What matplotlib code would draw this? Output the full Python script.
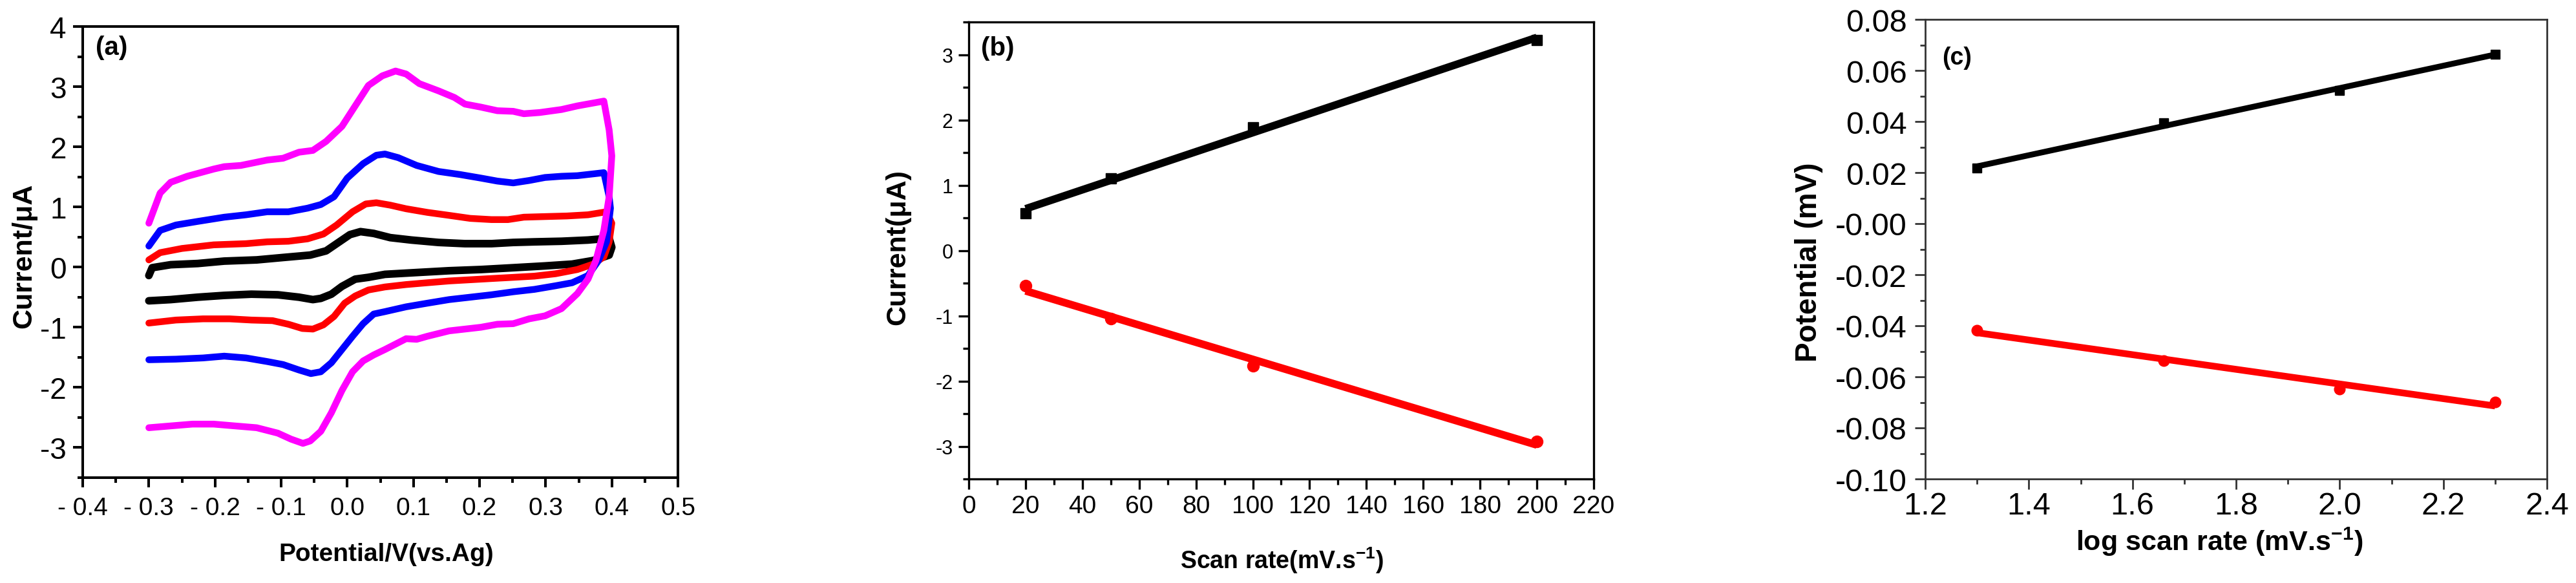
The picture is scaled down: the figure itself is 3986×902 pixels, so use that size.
import numpy as np
import matplotlib
matplotlib.use("Agg")
import matplotlib.pyplot as plt
from matplotlib.ticker import MultipleLocator, FormatStrFormatter

plt.rcParams['font.family'] = ['Liberation Sans', 'DejaVu Sans']
plt.rcParams['axes.unicode_minus'] = False
plt.rcParams['mathtext.fontset'] = 'custom'
plt.rcParams['mathtext.rm'] = 'Liberation Sans'
plt.rcParams['mathtext.bf'] = 'Liberation Sans:bold'

# ---- (a) cyclic voltammograms, potential (V) / current (uA) ----
e_magenta = [-0.300, -0.283, -0.267, -0.242, -0.202, -0.186, -0.161, -0.121, -0.097, -0.073,
             -0.052, -0.032, -0.008, 0.012, 0.032, 0.053, 0.073, 0.089, 0.109, 0.138,
             0.162, 0.178, 0.202, 0.227, 0.251, 0.267, 0.291, 0.324, 0.348, 0.388,
             0.396, 0.400, 0.396, 0.388, 0.376, 0.364, 0.348, 0.324, 0.299, 0.275,
             0.251, 0.227, 0.202, 0.178, 0.154, 0.121, 0.105, 0.089, 0.073, 0.057,
             0.040, 0.024, 0.008, -0.008, -0.024, -0.040, -0.056, -0.067, -0.085, -0.105,
             -0.137, -0.170, -0.202, -0.234, -0.267, -0.300]
i_magenta = [0.73, 1.23, 1.41, 1.51, 1.63, 1.67, 1.69, 1.78, 1.81, 1.91,
             1.94, 2.09, 2.34, 2.68, 3.02, 3.18, 3.26, 3.21, 3.05, 2.93,
             2.82, 2.71, 2.66, 2.60, 2.59, 2.55, 2.57, 2.62, 2.68, 2.76,
             2.28, 1.85, 1.17, 0.61, 0.11, -0.20, -0.44, -0.69, -0.81, -0.86,
             -0.94, -0.95, -1.00, -1.03, -1.06, -1.15, -1.20, -1.19, -1.28, -1.37,
             -1.46, -1.56, -1.74, -2.05, -2.42, -2.73, -2.89, -2.93, -2.86, -2.76,
             -2.67, -2.64, -2.61, -2.61, -2.64, -2.67]

e_blue = [-0.300, -0.283, -0.259, -0.226, -0.186, -0.153, -0.121, -0.089, -0.060, -0.040,
          -0.020, 0.000, 0.024, 0.044, 0.057, 0.077, 0.105, 0.138, 0.170, 0.202,
          0.227, 0.251, 0.275, 0.299, 0.324, 0.348, 0.388, 0.396, 0.398, 0.392,
          0.380, 0.364, 0.340, 0.315, 0.283, 0.251, 0.218, 0.186, 0.154, 0.121,
          0.089, 0.057, 0.040, 0.024, 0.008, -0.008, -0.024, -0.040, -0.055, -0.073,
          -0.097, -0.121, -0.153, -0.186, -0.218, -0.259, -0.300]
i_blue = [0.35, 0.61, 0.70, 0.76, 0.83, 0.87, 0.92, 0.92, 0.98, 1.04,
          1.17, 1.48, 1.72, 1.86, 1.88, 1.82, 1.69, 1.59, 1.54, 1.48,
          1.43, 1.40, 1.44, 1.49, 1.51, 1.52, 1.57, 1.17, 0.98, 0.42,
          0.11, -0.14, -0.26, -0.31, -0.37, -0.41, -0.46, -0.50, -0.54, -0.60,
          -0.66, -0.74, -0.78, -0.94, -1.15, -1.37, -1.59, -1.74, -1.77, -1.71,
          -1.62, -1.57, -1.51, -1.48, -1.51, -1.53, -1.54]

e_red = [-0.300, -0.283, -0.250, -0.202, -0.153, -0.121, -0.089, -0.060, -0.036, -0.016,
         0.008, 0.028, 0.044, 0.065, 0.089, 0.121, 0.154, 0.186, 0.218, 0.243,
         0.267, 0.299, 0.332, 0.364, 0.392, 0.400, 0.396, 0.388, 0.372, 0.348,
         0.315, 0.283, 0.251, 0.218, 0.186, 0.154, 0.121, 0.089, 0.057, 0.032,
         0.012, -0.004, -0.020, -0.036, -0.052, -0.068, -0.089, -0.113, -0.145, -0.178,
         -0.218, -0.259, -0.300]
i_red = [0.12, 0.24, 0.31, 0.37, 0.39, 0.42, 0.43, 0.47, 0.55, 0.70,
         0.92, 1.05, 1.07, 1.03, 0.97, 0.91, 0.86, 0.81, 0.79, 0.79,
         0.83, 0.84, 0.85, 0.87, 0.92, 0.73, 0.42, 0.17, 0.05, -0.04,
         -0.11, -0.15, -0.17, -0.19, -0.21, -0.23, -0.26, -0.29, -0.33, -0.38,
         -0.48, -0.60, -0.82, -0.96, -1.03, -1.02, -0.95, -0.89, -0.88, -0.86,
         -0.86, -0.88, -0.93]

e_black = [-0.300, -0.295, -0.267, -0.226, -0.186, -0.137, -0.097, -0.056, -0.032, -0.012,
           0.004, 0.020, 0.040, 0.065, 0.097, 0.138, 0.178, 0.218, 0.251, 0.283,
           0.324, 0.364, 0.396, 0.400, 0.396, 0.372, 0.340, 0.299, 0.251, 0.202,
           0.154, 0.105, 0.057, 0.032, 0.012, -0.008, -0.024, -0.040, -0.052, -0.073,
           -0.105, -0.145, -0.186, -0.226, -0.267, -0.300]
i_black = [-0.14, -0.01, 0.04, 0.06, 0.10, 0.12, 0.16, 0.20, 0.27, 0.42,
           0.54, 0.59, 0.56, 0.49, 0.45, 0.41, 0.39, 0.39, 0.41, 0.42,
           0.43, 0.45, 0.48, 0.33, 0.20, 0.11, 0.05, 0.02, -0.01, -0.04,
           -0.06, -0.09, -0.12, -0.17, -0.20, -0.32, -0.45, -0.52, -0.54, -0.50,
           -0.46, -0.45, -0.47, -0.50, -0.54, -0.56]

a_xticks = [-0.4, -0.3, -0.2, -0.1, 0.0, 0.1, 0.2, 0.3, 0.4, 0.5]
a_xticklabels = ['- 0.4', '- 0.3', '- 0.2', '- 0.1', '0.0', '0.1', '0.2', '0.3', '0.4', '0.5']

# ---- (b) peak current vs scan rate ----
scan_rate = [20, 50, 100, 200]
ipa = [0.57, 1.10, 1.89, 3.22]
ipc = [-0.54, -1.04, -1.77, -2.93]

# ---- (c) peak potential vs log scan rate ----
log_rate = [1.30, 1.66, 2.00, 2.30]
epa = [0.0218, 0.0396, 0.0521, 0.0664]
epc = [-0.0418, -0.0536, -0.0647, -0.0699]

W, H = 3986, 903
fig = plt.figure(figsize=(W / 100, H / 100), dpi=100)


def px_axes(l, t, r, b):
    return fig.add_axes([l / W, 1 - b / H, (r - l) / W, (b - t) / H])


def style(ax, lw, maj, mnr, lcolor='black'):
    for s in ['top', 'right', 'left', 'bottom']:
        ax.spines[s].set_linewidth(lw)
        ax.spines[s].set_color(lcolor)
    ax.tick_params(which='both', direction='out', top=False, right=False,
                   width=lw, color=lcolor)
    ax.tick_params(which='major', length=maj)
    ax.tick_params(which='minor', length=mnr)


# panel (a)
ax1 = px_axes(128, 42, 1049, 740)
curves = [(e_black, i_black, 'black', 8.5), (e_red, i_red, '#ff0000', 7.5),
          (e_blue, i_blue, '#0000ff', 7.5), (e_magenta, i_magenta, '#ff00ff', 7.5)]
for e, i, c, w in curves:
    ax1.plot(e, i, color=c, lw=w, solid_joinstyle='round', solid_capstyle='round')
ax1.set_xlim(-0.4, 0.5)
ax1.set_ylim(-3.5, 4)
ax1.set_xticks(a_xticks)
ax1.set_xticklabels(a_xticklabels)
ax1.xaxis.set_minor_locator(MultipleLocator(0.05))
ax1.yaxis.set_major_locator(MultipleLocator(1))
ax1.yaxis.set_minor_locator(MultipleLocator(0.5))
style(ax1, 2.9, 11, 6)
ax1.tick_params(axis='x', labelsize=28, pad=10)
ax1.tick_params(axis='y', labelsize=33, pad=7)
ax1.text(-0.098, 0.493, 'Current/μA', transform=ax1.transAxes, rotation=90,
         ha='center', va='center', fontsize=31, fontweight='bold')
ax1.text(0.51, -0.169, 'Potential/V(vs.Ag)', transform=ax1.transAxes,
         ha='center', va='center', fontsize=28, fontweight='bold')
ax1.text(0.022, 0.954, '(a)', transform=ax1.transAxes, ha='left', va='center',
         fontsize=29, fontweight='bold')

# panel (b)
ax2 = px_axes(1499, 35, 2466, 742)
for y, c, m, ms in [(ipa, 'black', 's', 12), (ipc, '#ff0000', 'o', 13)]:
    ax2.plot(scan_rate, y, ls='none', marker=m, color=c, ms=ms)
    k, b0 = np.polyfit(scan_rate, y, 1)
    xs = np.array([scan_rate[0], scan_rate[-1]])
    ax2.plot(xs, k * xs + b0, color=c, lw=8.5, solid_capstyle='butt')
ax2.set_xlim(0, 220)
ax2.set_ylim(-3.5, 3.5)
ax2.xaxis.set_major_locator(MultipleLocator(20))
ax2.xaxis.set_minor_locator(MultipleLocator(10))
ax2.yaxis.set_major_locator(MultipleLocator(1))
ax2.yaxis.set_minor_locator(MultipleLocator(0.5))
style(ax2, 2.4, 11.5, 6.5)
ax2.tick_params(axis='x', labelsize=28, pad=6)
ax2.tick_params(axis='y', labelsize=22, pad=6)
ax2.text(-0.113, 0.509, 'Current(μA)', transform=ax2.transAxes, rotation=90,
         ha='center', va='center', fontsize=31, fontweight='bold')
ax2.text(0.501, -0.177, r'Scan rate(mV.s$^{\mathbf{-1}}$)', transform=ax2.transAxes,
         ha='center', va='center', fontsize=27, fontweight='bold')
ax2.text(0.02, 0.943, '(b)', transform=ax2.transAxes, ha='left', va='center',
         fontsize=29, fontweight='bold')

# panel (c)
ax3 = px_axes(2979, 31, 3941, 742)
for y, c, m, ms, w in [(epa, 'black', 's', 10, 6.5), (epc, '#ff0000', 'o', 12, 7.5)]:
    ax3.plot(log_rate, y, ls='none', marker=m, color=c, ms=ms)
    k, b0 = np.polyfit(log_rate, y, 1)
    xs = np.array([log_rate[0], log_rate[-1]])
    ax3.plot(xs, k * xs + b0, color=c, lw=w, solid_capstyle='butt')
ax3.set_xlim(1.2, 2.4)
ax3.set_ylim(-0.10, 0.08)
ax3.xaxis.set_major_locator(MultipleLocator(0.2))
ax3.xaxis.set_minor_locator(MultipleLocator(0.1))
ax3.yaxis.set_major_locator(MultipleLocator(0.02))
ax3.yaxis.set_minor_locator(MultipleLocator(0.01))
ax3.xaxis.set_major_formatter(FormatStrFormatter('%.1f'))
ax3.yaxis.set_major_formatter(FormatStrFormatter('%.2f'))
style(ax3, 2.0, 11.5, 5.5, lcolor='#333333')
ax3.tick_params(axis='x', labelsize=35, pad=2)
ax3.tick_params(axis='y', labelsize=35, pad=9)
ax3.text(-0.187, 0.473, 'Potential (mV)', transform=ax3.transAxes, rotation=90,
         ha='center', va='center', fontsize=33, fontweight='bold')
ax3.text(0.473, -0.136, r'log scan rate (mV.s$^{\mathbf{-1}}$)', transform=ax3.transAxes,
         ha='center', va='center', fontsize=31, fontweight='bold')
ax3.text(0.027, 0.917, '(c)', transform=ax3.transAxes, ha='left', va='center',
         fontsize=27, fontweight='bold')

fig.savefig('out.png', dpi=100, facecolor='white')
